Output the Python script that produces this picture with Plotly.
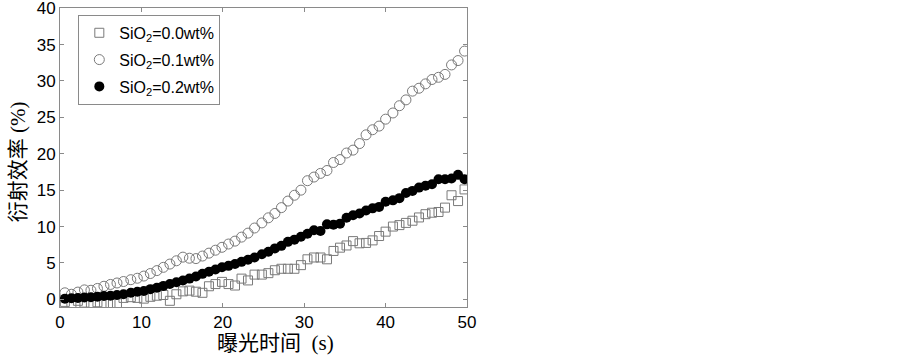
import plotly.graph_objects as go

time_s = [0.6, 1.4, 2.2, 3.0, 3.8, 4.6, 5.4, 6.2, 7.0, 7.8,
          8.7, 9.5, 10.3, 11.1, 11.9, 12.7, 13.5, 14.3, 15.1, 15.9,
          16.7, 17.5, 18.3, 19.1, 19.9, 20.7, 21.5, 22.3, 23.1, 23.9,
          24.8, 25.6, 26.4, 27.2, 28.0, 28.8, 29.6, 30.4, 31.2, 32.0,
          32.8, 33.6, 34.4, 35.2, 36.0, 36.8, 37.6, 38.4, 39.2, 40.0,
          40.9, 41.7, 42.5, 43.3, 44.1, 44.9, 45.7, 46.5, 47.3, 48.1,
          48.9, 49.7]

sio2_00 = [-0.35, -0.5, -0.2, -0.45, -0.6, -0.4, -0.5, -0.6, -0.55, 0.2,
           0.3, 0.2, 0.1, 0.35, 0.5, 0.6, -0.2, 0.7, 1.1, 1.2,
           1.05, 0.9, 1.8, 2.1, 2.4, 2.1, 1.9, 2.85, 2.6, 3.4,
           3.4, 3.6, 4.0, 4.2, 4.2, 4.2, 4.7, 5.5, 5.75, 5.75,
           5.5, 6.65, 7.1, 7.4, 8.0, 7.7, 7.75, 8.1, 8.7, 9.3,
           10.0, 10.2, 10.5, 10.8, 11.25, 11.7, 11.9, 12.0, 12.6, 14.3,
           13.5, 15.1]

sio2_01 = [0.9, 0.7, 1.0, 1.3, 1.25, 1.5, 1.8, 2.05, 2.25, 2.45,
           2.7, 2.9, 3.2, 3.55, 3.95, 4.4, 4.85, 5.3, 5.8, 5.65,
           5.6, 5.95, 6.35, 6.75, 7.15, 7.6, 8.0, 8.55, 9.1, 9.8,
           10.5, 11.2, 11.8, 12.6, 13.5, 14.3, 15.0, 16.3, 16.8, 17.3,
           17.7, 18.8, 19.2, 20.1, 20.5, 21.4, 22.6, 23.3, 23.8, 24.75,
           25.6, 26.6, 27.4, 28.6, 29.0, 29.6, 30.2, 30.5, 30.9, 32.2,
           32.8, 34.1]

sio2_02 = [0.1, 0.15, 0.2, 0.25, 0.3, 0.35, 0.45, 0.5, 0.6, 0.7,
           0.9, 1.05, 1.15, 1.4, 1.6, 1.85, 2.1, 2.35, 2.6, 2.85,
           3.15, 3.5, 3.8, 4.1, 4.4, 4.6, 4.85, 5.15, 5.45, 5.75,
           6.2, 6.55, 7.0, 7.35, 7.9, 8.2, 8.6, 9.0, 9.5, 9.4,
           10.3, 10.25, 10.4, 11.2, 11.55, 11.8, 12.2, 12.5, 12.7, 13.4,
           13.6, 13.9, 14.6, 14.9, 15.35, 15.6, 15.8, 16.5, 16.5, 16.6,
           17.1, 16.5]

legend_names = ["SiO<sub>2</sub>=0.0wt%", "SiO<sub>2</sub>=0.1wt%", "SiO<sub>2</sub>=0.2wt%"]
y_ticks = [0, 5, 10, 15, 20, 25, 30, 35, 40]
x_ticks = [0, 10, 20, 30, 40, 50]
x_title = "曝光时间  (s)"
y_title = "衍射效率 (%)"

fig = go.Figure()
fig.add_trace(go.Scatter(
    x=time_s, y=sio2_00, mode="markers", name=legend_names[0], legendgroup="a",
    marker=dict(symbol="square-open", size=9, color="#7a7a7a", line=dict(width=1))))
fig.add_trace(go.Scatter(
    x=time_s, y=sio2_01, mode="markers", name=legend_names[1], legendgroup="b",
    marker=dict(symbol="circle-open", size=10, color="#7a7a7a", line=dict(width=1))))
fig.add_trace(go.Scatter(
    x=time_s, y=sio2_02, mode="markers", name=legend_names[2], legendgroup="c",
    marker=dict(symbol="circle", size=10, color="#000000", line=dict(width=0))))

axis_common = dict(
    showline=True, linecolor="#8a8a8a", linewidth=1, mirror="ticks",
    ticks="inside", ticklen=4, tickcolor="#8a8a8a", showgrid=False,
    zeroline=False, automargin=False, ticklabeloverflow="allow",
    tickfont=dict(family="Liberation Sans, Arial", size=17, color="black"),
)

title_font = dict(family="Liberation Serif, Noto Sans CJK SC", size=21, color="black")

fig.update_layout(
    width=903, height=355,
    margin=dict(l=59.5, r=436.3, t=8, b=48.3),
    paper_bgcolor="white", plot_bgcolor="white",
    showlegend=True,
    legend=dict(
        x=0.045, y=0.977, xanchor="left", yanchor="top",
        bordercolor="#8a8a8a", borderwidth=1, bgcolor="white",
        font=dict(family="Liberation Sans, Arial", size=16, color="black"),
        itemwidth=30, tracegroupgap=3,
    ),
    xaxis=dict(range=[0, 50], tickmode="array", tickvals=x_ticks, **axis_common),
    yaxis=dict(range=[-1.05, 40.02], tickmode="array", tickvals=y_ticks, **axis_common),
    annotations=[
        dict(text=x_title, xref="paper", yref="paper", x=0.53, y=-0.122,
             xanchor="center", yanchor="middle", showarrow=False, font=title_font),
        dict(text=y_title, xref="paper", yref="paper", x=-0.104, y=0.486,
             xanchor="center", yanchor="middle", showarrow=False, textangle=-90,
             font=title_font),
    ],
)

fig.write_html("out.html", config={"displayModeBar": False},
               post_script="document.body.style.margin='0';document.body.style.overflow='hidden';")
